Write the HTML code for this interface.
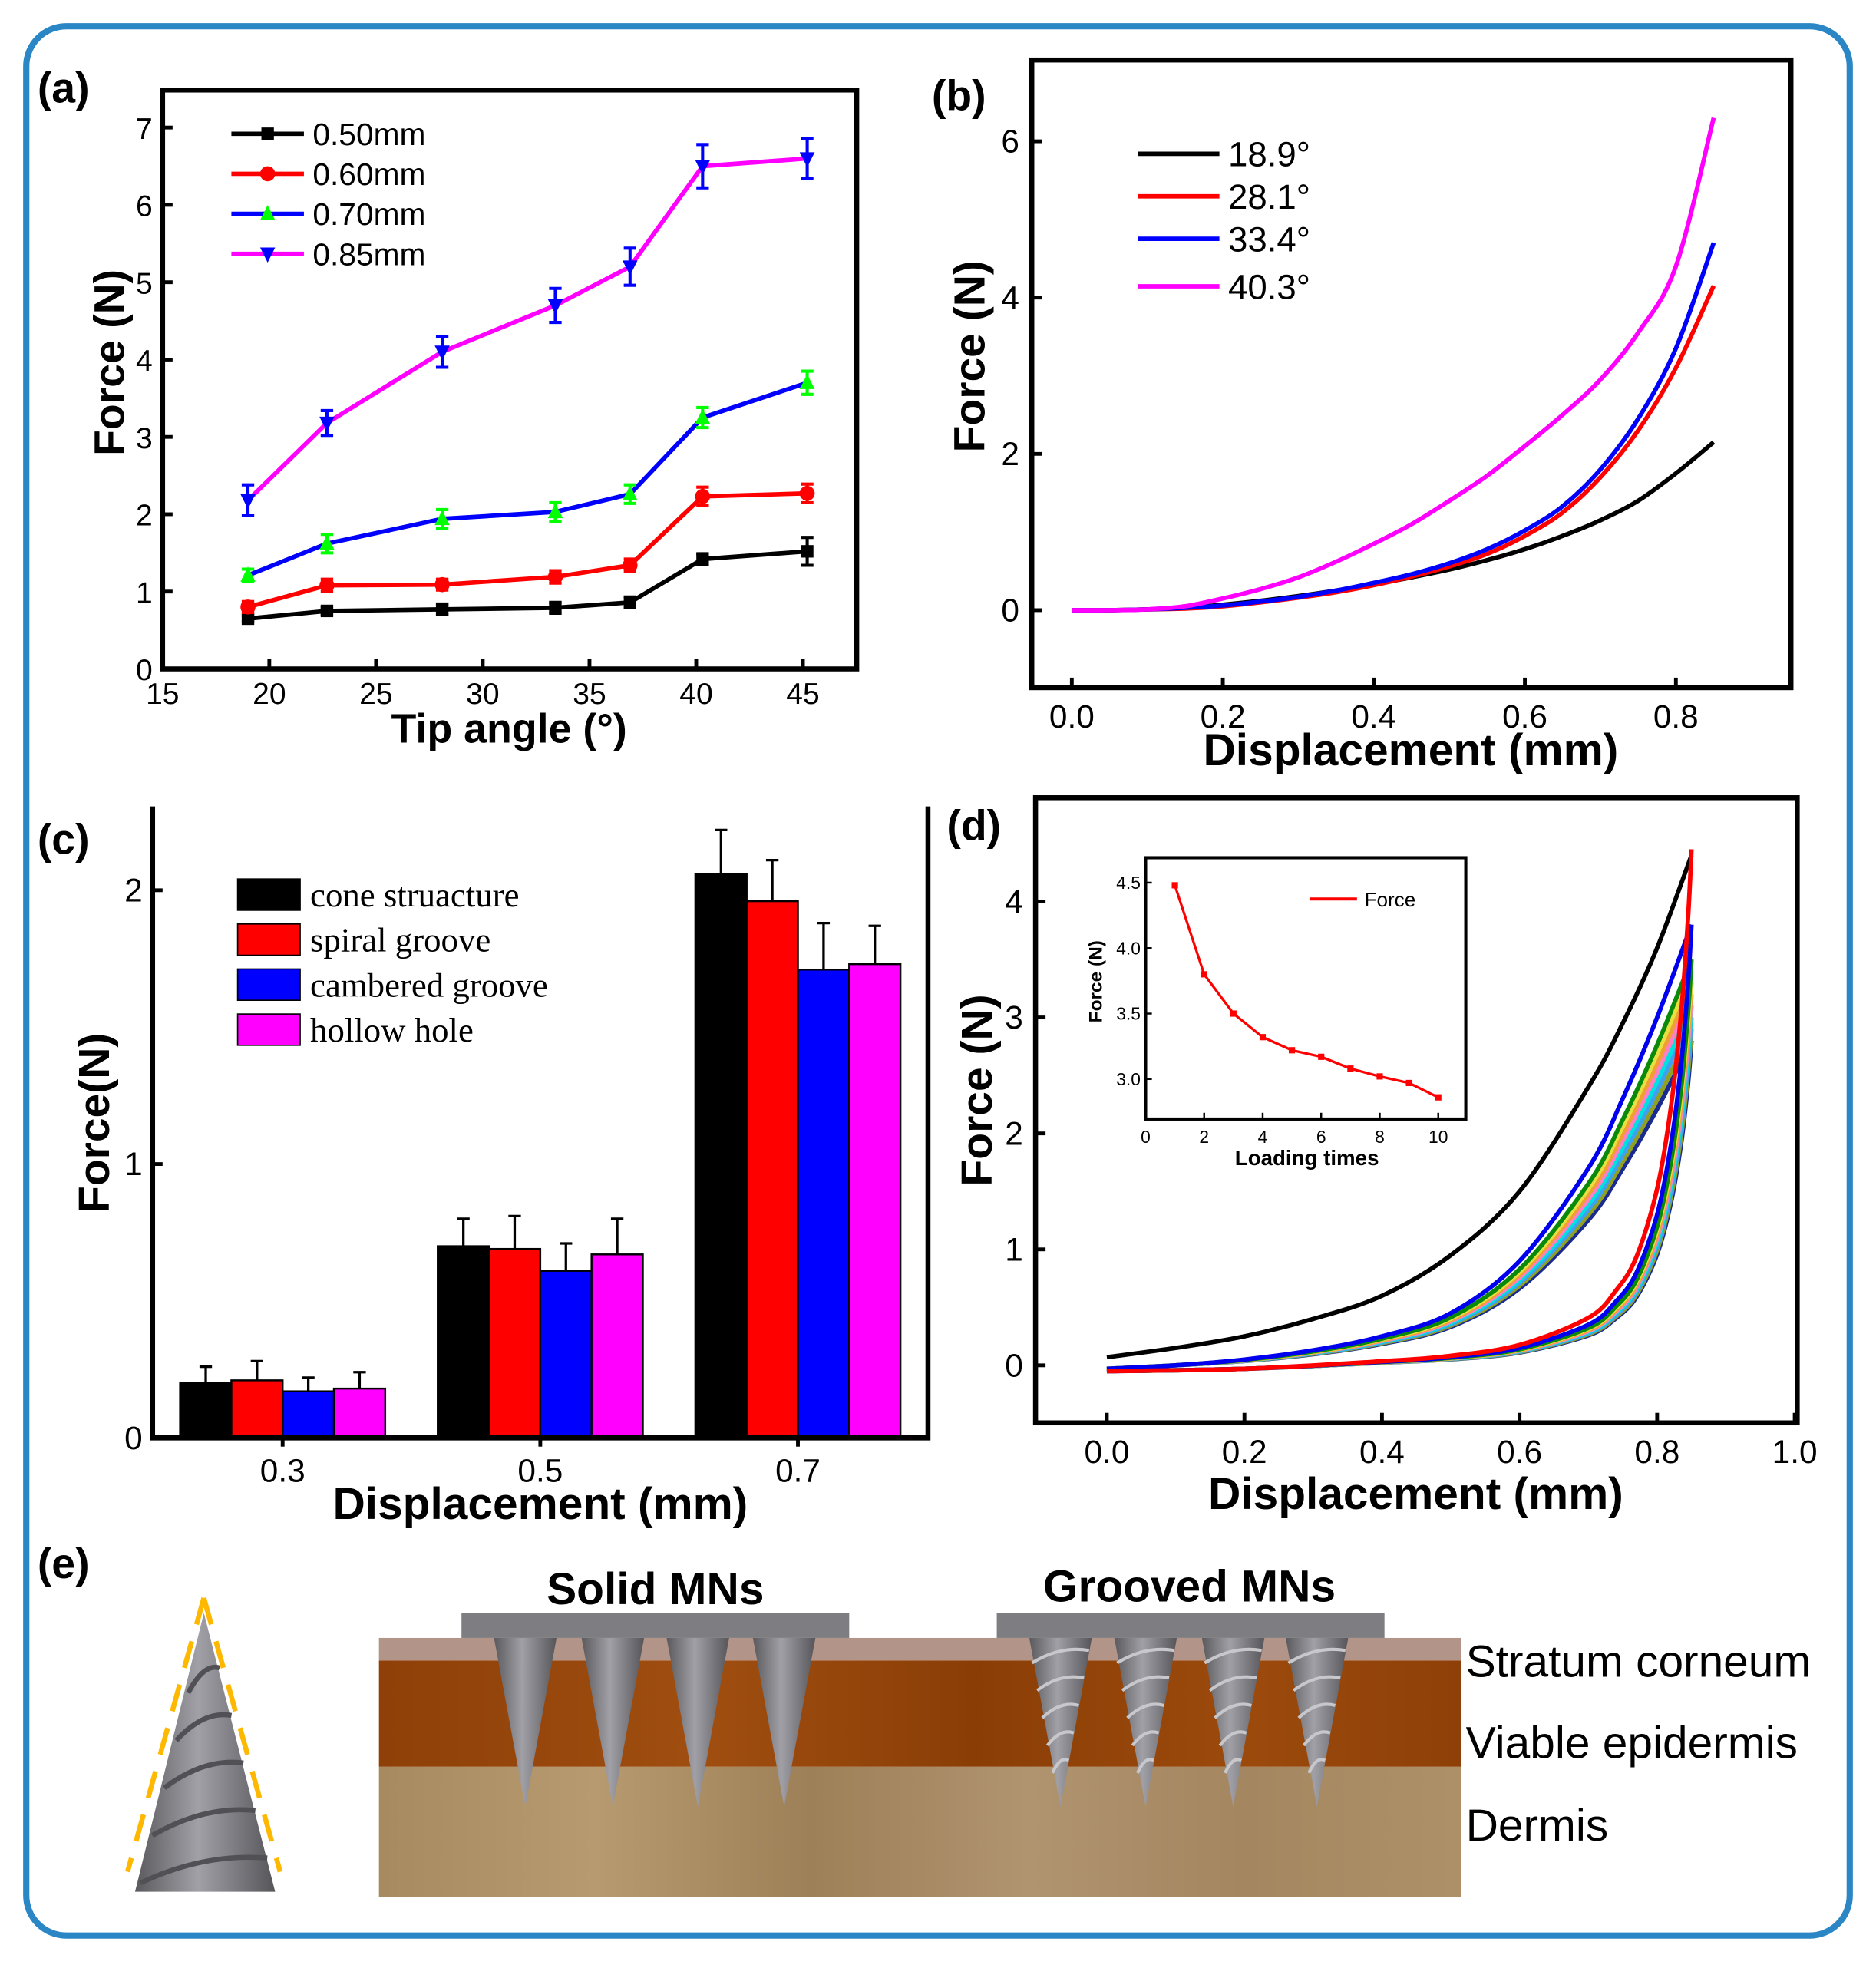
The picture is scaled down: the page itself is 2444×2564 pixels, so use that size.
<!DOCTYPE html>
<html><head><meta charset="utf-8"><style>
html,body{margin:0;padding:0;background:#fff;}
svg{display:block;}
text{font-family:"Liberation Sans",Arial,sans-serif;}
.serif{font-family:"Liberation Serif",serif;}
</style></head><body>
<svg id="fig" xmlns="http://www.w3.org/2000/svg" width="2444" height="2564" viewBox="0 0 1500 1574" preserveAspectRatio="none">
<defs>
<linearGradient id="cone" x1="0" x2="1" y1="0" y2="0"><stop offset="0" stop-color="#5a5a5e"/><stop offset="0.45" stop-color="#a0a0a6"/><stop offset="1" stop-color="#55555a"/></linearGradient>
<linearGradient id="epi" x1="0" x2="1"><stop offset="0" stop-color="#8e4008"/><stop offset="0.3" stop-color="#a04e10"/><stop offset="0.55" stop-color="#8a3e06"/><stop offset="0.8" stop-color="#9c4a0c"/><stop offset="1" stop-color="#8e4008"/></linearGradient>
<linearGradient id="der" x1="0" x2="1"><stop offset="0" stop-color="#a88a60"/><stop offset="0.2" stop-color="#b89a70"/><stop offset="0.4" stop-color="#9e8058"/><stop offset="0.6" stop-color="#b09470"/><stop offset="0.8" stop-color="#a48660"/><stop offset="1" stop-color="#ae9068"/></linearGradient>
</defs>
<rect x="21" y="21" width="1458" height="1527" rx="32" fill="none" stroke="#2a86c4" stroke-width="5"/>
<g id="pa"></g><g id="pb"></g><g id="pc"></g><g id="pd"></g><g id="pe"></g>
</svg>
<script>
const NS='http://www.w3.org/2000/svg';
function mk(p,tag,at,txt){const e=document.createElementNS(NS,tag);for(const k in at)e.setAttribute(k,at[k]);if(txt!==undefined)e.textContent=txt;p.appendChild(e);return e;}
function smooth(pts){
  let d='M'+pts[0][0]+','+pts[0][1];
  for(let i=0;i<pts.length-1;i++){
    const p0=pts[Math.max(0,i-1)],p1=pts[i],p2=pts[i+1],p3=pts[Math.min(pts.length-1,i+2)];
    const c1x=p1[0]+(p2[0]-p0[0])/6,c1y=p1[1]+(p2[1]-p0[1])/6;
    const c2x=p2[0]-(p3[0]-p1[0])/6,c2y=p2[1]-(p3[1]-p1[1])/6;
    d+=`C${c1x},${c1y} ${c2x},${c2y} ${p2[0]},${p2[1]}`;
  }
  return d;
}

// ---------- Panel (a) data ----------
const aAngles=[19,22.7,28.1,33.4,36.9,40.3,45.2];
const a050=[0.65,0.75,0.77,0.79,0.86,1.42,1.52];
const a060=[0.80,1.08,1.09,1.19,1.34,2.23,2.27];
const a070=[1.21,1.62,1.94,2.03,2.26,3.25,3.70];
const a085=[2.18,3.18,4.10,4.70,5.20,6.50,6.60];
const e050=[0.04,0.04,0.07,0.07,0.07,0.07,0.18];
const e060=[0.07,0.08,0.07,0.08,0.08,0.12,0.12];
const e070=[0.08,0.12,0.12,0.12,0.12,0.13,0.15];
const e085=[0.2,0.16,0.2,0.22,0.24,0.28,0.26];
const aLabels=['0.50mm','0.60mm','0.70mm','0.85mm'];
const aXTicks=[15,20,25,30,35,40,45];
const aYTicks=[0,1,2,3,4,5,6,7];

// ---------- Panel (b) data ----------
const bDisp=[0,0.05,0.1,0.15,0.2,0.25,0.3,0.35,0.4,0.45,0.5,0.55,0.6,0.65,0.7,0.75,0.8,0.85];
const b189=[0,0,0.01,0.03,0.07,0.12,0.18,0.25,0.33,0.42,0.52,0.64,0.78,0.95,1.15,1.4,1.75,2.15];
const b281=[0,0,0.01,0.02,0.05,0.1,0.16,0.23,0.32,0.43,0.56,0.72,0.95,1.25,1.7,2.3,3.1,4.15];
const b334=[0,0,0.01,0.03,0.06,0.11,0.17,0.25,0.35,0.46,0.6,0.78,1.02,1.33,1.8,2.45,3.35,4.7];
const b403=[0,0,0.01,0.05,0.15,0.27,0.42,0.62,0.85,1.1,1.4,1.72,2.1,2.5,2.95,3.55,4.4,6.3];
const bLabels=['18.9°','28.1°','33.4°','40.3°'];
const bXTicks=[0,0.2,0.4,0.6,0.8];
const bYTicks=[0,2,4,6];

// ---------- Panel (c) data ----------
const cGroups=['0.3','0.5','0.7'];
const cCone=[0.20,0.70,2.06];
const cSpiral=[0.21,0.69,1.96];
const cCamber=[0.17,0.61,1.71];
const cHollow=[0.18,0.67,1.73];
const cConeErr=[0.06,0.10,0.16];
const cSpiralErr=[0.07,0.12,0.15];
const cCamberErr=[0.05,0.10,0.17];
const cHollowErr=[0.06,0.13,0.14];
const cLabels=['cone struacture','spiral groove','cambered groove','hollow hole'];
const cYTicks=[0,1,2];

// ---------- Panel (d) data ----------
const dPeaks=[4.45,3.8,3.5,3.4,3.3,3.2,3.1,3.0,2.9,2.8];
const dLoadX=[0,0.1,0.2,0.3,0.4,0.5,0.6,0.7,0.75,0.8,0.85];
const dFirstLoad=[0.07,0.15,0.25,0.4,0.6,0.95,1.5,2.4,2.95,3.6,4.4];
const dLoadShape=[-0.03,0.0,0.05,0.13,0.25,0.45,0.9,1.7,2.3,3.0,3.8];
const dUnloadX=[0.85,0.845,0.835,0.82,0.8,0.77,0.74,0.7,0.6,0.5,0.4,0.2,0];
const dUnloadShape=[3.8,3.3,2.6,1.9,1.3,0.8,0.55,0.35,0.15,0.07,0.03,-0.03,-0.05];
const dXTicks=[0,0.2,0.4,0.6,0.8,1.0];
const dYTicks=[0,1,2,3,4];
const insetTimes=[1,2,3,4,5,6,7,8,9,10];
const insetForce=[4.48,3.80,3.50,3.32,3.22,3.17,3.08,3.02,2.97,2.86];
const insetXTicks=[0,2,4,6,8,10];
const insetYTicks=[3.0,3.5,4.0,4.5];

function axisBox(g,x0,y0,x1,y1,name){
  const r=mk(g,'rect',{x:x0,y:y0,width:x1-x0,height:y1-y0,fill:'none',stroke:'#000','stroke-width':4});
  
  
}
function ttext(g,x,y,s,size,extra,name){
  const t=mk(g,'text',Object.assign({x:x,y:y,'font-size':size},extra||{}),s);
  
  
  return t;
}

// ======== PANEL A ========
(function(){
  const g=document.getElementById('pa');
  
  const X0=130,X1=685,Y0=72,Y1=535;
  const sx=v=>130+(v-15)*(642-130)/30, sy=v=>535-v*(535-102)/7;
  ttext(g,30,82,'(a)',34,{'font-weight':'bold'},'panel-a-label');
  aYTicks.forEach(v=>{
    const l=mk(g,'line',{x1:X0,x2:X0+8,y1:sy(v),y2:sy(v),stroke:'#000','stroke-width':3});
    
    ttext(g,X0-8,sy(v)+9,String(v),24,{'text-anchor':'end'},'a-y-tick-label');
  });
  aXTicks.forEach(v=>{
    const l=mk(g,'line',{x1:sx(v),x2:sx(v),y1:Y1,y2:Y1-8,stroke:'#000','stroke-width':3});
    
    ttext(g,sx(v),Y1+28,String(v),24,{'text-anchor':'middle'},'a-x-tick-label');
  });
  axisBox(g,X0,Y0,X1,Y1,'a-plot-frame');
  ttext(g,407,594,'Tip angle (°)',33,{'text-anchor':'middle','font-weight':'bold'},'a-x-axis-title');
  ttext(g,0,0,'Force (N)',34,{'text-anchor':'middle','font-weight':'bold',transform:'translate(99,290) rotate(-90)'},'a-y-axis-title');
  const series=[[a050,e050,'#000','#000','sq'],[a060,e060,'#f00','#f00','ci'],[a070,e070,'#00f','#0f0','up'],[a085,e085,'#f0f','#00f','dn']];
  function marker(p,x,y,type,c){
    let m;
    if(type==='sq')m=mk(p,'rect',{x:x-5,y:y-5,width:10,height:10,fill:c});
    else if(type==='ci')m=mk(p,'circle',{cx:x,cy:y,r:6,fill:c});
    else if(type==='up')m=mk(p,'polygon',{points:`${x},${y-7} ${x-6},${y+5} ${x+6},${y+5}`,fill:c});
    else m=mk(p,'polygon',{points:`${x},${y+7} ${x-6},${y-5} ${x+6},${y-5}`,fill:c});
    
  }
  series.forEach((s,i)=>{
    const [vals,errs,lc,mc,type]=s;
    const pl=mk(g,'polyline',{points:vals.map((v,j)=>sx(aAngles[j])+','+sy(v)).join(' '),fill:'none',stroke:lc,'stroke-width':3.5});
    
    vals.forEach((v,j)=>{
      const x=sx(aAngles[j]);
      const eb=mk(g,'path',{d:`M${x},${sy(v-errs[j])}V${sy(v+errs[j])}M${x-5},${sy(v-errs[j])}h10M${x-5},${sy(v+errs[j])}h10`,stroke:mc,'stroke-width':2.5,fill:'none'});
      
      marker(g,x,sy(v),type,mc);
    });
    const ly=107+i*32;
    const ll=mk(g,'line',{x1:185,x2:243,y1:ly,y2:ly,stroke:lc,'stroke-width':3.5});
    
    marker(g,214,ly,type,mc);
    ttext(g,250,ly+9,aLabels[i],25,{},'a-legend-entry');
  });
})();

// ======== PANEL B ========
(function(){
  const g=document.getElementById('pb');
  
  const X0=825,X1=1432,Y0=48,Y1=550;
  const sx=v=>857+v*(1340-857)/0.8, sy=v=>488-v*62.5;
  ttext(g,745,88,'(b)',34,{'font-weight':'bold'},'panel-b-label');
  bYTicks.forEach(v=>{
    const l=mk(g,'line',{x1:X0,x2:X0+8,y1:sy(v),y2:sy(v),stroke:'#000','stroke-width':3});
    
    ttext(g,X0-10,sy(v)+9,String(v),26,{'text-anchor':'end'},'b-y-tick-label');
  });
  bXTicks.forEach(v=>{
    const l=mk(g,'line',{x1:sx(v),x2:sx(v),y1:Y1,y2:Y1-8,stroke:'#000','stroke-width':3});
    
    ttext(g,sx(v),Y1+32,v.toFixed(1),26,{'text-anchor':'middle'},'b-x-tick-label');
  });
  axisBox(g,X0,Y0,X1,Y1,'b-plot-frame');
  ttext(g,1128,612,'Displacement (mm)',36,{'text-anchor':'middle','font-weight':'bold'},'b-x-axis-title');
  ttext(g,0,0,'Force (N)',35,{'text-anchor':'middle','font-weight':'bold',transform:'translate(787,285) rotate(-90)'},'b-y-axis-title');
  const series=[[b189,'#000'],[b281,'#f00'],[b334,'#00f'],[b403,'#f0f']];
  series.forEach((s,i)=>{
    const pl=mk(g,'path',{d:smooth(s[0].map((v,j)=>[sx(bDisp[j]),sy(v)])),fill:'none',stroke:s[1],'stroke-width':3.5,'stroke-linejoin':'round'});
    
    const ly=[123,157,191,229][i];
    const ll=mk(g,'line',{x1:910,x2:975,y1:ly,y2:ly,stroke:s[1],'stroke-width':3.5});
    
    ttext(g,982,ly+10,bLabels[i],28,{},'b-legend-entry');
  });
})();

// ======== PANEL C ========
(function(){
  const g=document.getElementById('pc');
  
  const X0=122,X1=742,Y0=645,Y1=1150;
  const sy=v=>1150-v*219;
  const centers=[226,432,638];
  ttext(g,30,683,'(c)',34,{'font-weight':'bold'},'panel-c-label');
  const series=[[cCone,cConeErr,'#000'],[cSpiral,cSpiralErr,'#f00'],[cCamber,cCamberErr,'#00f'],[cHollow,cHollowErr,'#f0f']];
  series.forEach((s,i)=>{
    s[0].forEach((v,j)=>{
      const x=centers[j]-82+i*41;
      const r=mk(g,'rect',{x:x,y:sy(v),width:41,height:sy(0)-sy(v),fill:s[2],stroke:'#000','stroke-width':1.5});
      
      const cx=x+20.5,e=s[1][j];
      const eb=mk(g,'path',{d:`M${cx},${sy(v)}V${sy(v+e)}M${cx-5},${sy(v+e)}h10`,stroke:'#000','stroke-width':2,fill:'none'});
      
    });
    const ly=703+i*36;
    const sw=mk(g,'rect',{x:190,y:ly,width:50,height:25,fill:s[2],stroke:'#000','stroke-width':1});
    
    ttext(g,248,ly+22,cLabels[i],27.5,{class:'serif'},'c-legend-entry');
  });
  cYTicks.forEach(v=>{
    const l=mk(g,'line',{x1:X0,x2:X0+8,y1:sy(v),y2:sy(v),stroke:'#000','stroke-width':3});
    
    ttext(g,X0-8,sy(v)+9,String(v),26,{'text-anchor':'end'},'c-y-tick-label');
  });
  cGroups.forEach((lab,j)=>{
    const l=mk(g,'line',{x1:centers[j],x2:centers[j],y1:Y1,y2:Y1+7,stroke:'#000','stroke-width':3});
    
    ttext(g,centers[j],Y1+35,lab,26,{'text-anchor':'middle'},'c-x-tick-label');
  });
  const ax=mk(g,'path',{d:`M${X0},${Y0}V${Y1}H${X1}V${Y0}`,fill:'none',stroke:'#000','stroke-width':4});
  
  ttext(g,432,1215,'Displacement (mm)',36,{'text-anchor':'middle','font-weight':'bold'},'c-x-axis-title');
  ttext(g,0,0,'Force(N)',35,{'text-anchor':'middle','font-weight':'bold',transform:'translate(87,898) rotate(-90)'},'c-y-axis-title');
})();

// ======== PANEL D ========
(function(){
  const g=document.getElementById('pd');
  
  const X0=828,X1=1437,Y0=638,Y1=1138;
  const sx=v=>885+v*550, sy=v=>1092-v*92.75;
  ttext(g,757,672,'(d)',34,{'font-weight':'bold'},'panel-d-label');
  dYTicks.forEach(v=>{
    const l=mk(g,'line',{x1:X0,x2:X0+8,y1:sy(v),y2:sy(v),stroke:'#000','stroke-width':3});
    
    ttext(g,X0-10,sy(v)+9,String(v),26,{'text-anchor':'end'},'d-y-tick-label');
  });
  dXTicks.forEach(v=>{
    const l=mk(g,'line',{x1:sx(v),x2:sx(v),y1:Y1,y2:Y1-8,stroke:'#000','stroke-width':3});
    
    ttext(g,sx(v),Y1+32,v.toFixed(1),26,{'text-anchor':'middle'},'d-x-tick-label');
  });
  const colors=['#000','#0000ee','#0a8a0a','#e8e040','#f0a030','#ff80c0','#00e0e0','#40a0f0','#90a020','#1a2a90'];
  for(let k=dPeaks.length-1;k>=0;k--){
    const sc=dPeaks[k]/3.8;
    const load=k===0?dFirstLoad.map((v,j)=>[sx(dLoadX[j]),sy(v)]):dLoadShape.map((v,j)=>[sx(dLoadX[j]),sy(v>0?v*sc:v)]);
    const pl=mk(g,'path',{d:smooth(load),fill:'none',stroke:colors[k],'stroke-width':3.5,'stroke-linejoin':'round'});
    
    const un=dUnloadShape.map((v,j)=>[sx(dUnloadX[j]),sy(v>0?v*sc:v)]);
    const pu=mk(g,'path',{d:smooth(un),fill:'none',stroke:k===0?'#f00':colors[k],'stroke-width':3.5,'stroke-linejoin':'round'});
    
  }
  axisBox(g,X0,Y0,X1,Y1,'d-plot-frame');
  ttext(g,1132,1207,'Displacement (mm)',36,{'text-anchor':'middle','font-weight':'bold'},'d-x-axis-title');
  ttext(g,0,0,'Force (N)',35,{'text-anchor':'middle','font-weight':'bold',transform:'translate(793,872) rotate(-90)'},'d-y-axis-title');
  // inset
  const ix=v=>916+v*23.4, iy=v=>863-(v-3.0)*104.7;
  const ib=mk(g,'rect',{x:916,y:686,width:256,height:209,fill:'#fff',stroke:'#000','stroke-width':2.5});
  
  insetYTicks.forEach(v=>{
    const l=mk(g,'line',{x1:916,x2:921,y1:iy(v),y2:iy(v),stroke:'#000','stroke-width':1.5});
    
    ttext(g,912,iy(v)+5,v.toFixed(1),14,{'text-anchor':'end'},'inset-y-tick-label');
  });
  insetXTicks.forEach(v=>{
    const l=mk(g,'line',{x1:ix(v),x2:ix(v),y1:895,y2:890,stroke:'#000','stroke-width':1.5});
    
    ttext(g,ix(v),914,String(v),14,{'text-anchor':'middle'},'inset-x-tick-label');
  });
  const ipl=mk(g,'polyline',{points:insetForce.map((v,j)=>ix(insetTimes[j])+','+iy(v)).join(' '),fill:'none',stroke:'#f00','stroke-width':2});
  
  insetForce.forEach((v,j)=>{
    const m=mk(g,'rect',{x:ix(insetTimes[j])-2.5,y:iy(v)-2.5,width:5,height:5,fill:'#f00'});
    
  });
  const ll=mk(g,'line',{x1:1047,x2:1085,y1:719,y2:719,stroke:'#f00','stroke-width':2.5});
  
  ttext(g,1091,725,'Force',16,{},'inset-legend-entry');
  ttext(g,1045,932,'Loading times',17,{'text-anchor':'middle','font-weight':'bold'},'inset-x-axis-title');
  ttext(g,0,0,'Force (N)',15,{'text-anchor':'middle','font-weight':'bold',transform:'translate(881,785) rotate(-90)'},'inset-y-axis-title');
})();

// ======== PANEL E ========
(function(){
  const g=document.getElementById('pe');
  
  ttext(g,30,1262,'(e)',34,{'font-weight':'bold'},'panel-e-label');
  function R(x,y,w,h,f,name){const r=mk(g,'rect',{x:x,y:y,width:w,height:h,fill:f});return r;}
  R(303,1413,865,104,'url(#der)','dermis-layer');
  R(303,1328,865,85,'url(#epi)','viable-epidermis-layer');
  R(303,1310,865,18,'#b39488','stratum-corneum-layer');
  R(369,1290,310,20,'#7e7e82','solid-mn-base');
  R(797,1290,310,20,'#7e7e82','grooved-mn-base');
  [420,490,558,627].forEach(cx=>{
    const p=mk(g,'polygon',{points:`${cx-25},1310 ${cx+25},1310 ${cx},1445`,fill:'url(#cone)'});
    
  });
  [848,916,986,1053].forEach(cx=>{
    const p=mk(g,'polygon',{points:`${cx-25},1310 ${cx+25},1310 ${cx},1445`,fill:'url(#cone)'});
    
    let d='';
    for(let k=0;k<5;k++){const y=1322+k*22,hw=25*(1445-y)/135;d+=`M${cx-hw},${y+8}Q${cx},${y-6} ${cx+hw},${y-2}`;}
    const gr=mk(g,'path',{d:d,stroke:'#c8c8cc','stroke-width':2.5,fill:'none'});
    
  });
  ttext(g,524,1283,'Solid MNs',36,{'text-anchor':'middle','font-weight':'bold'},'solid-mns-title');
  ttext(g,951,1281,'Grooved MNs',36,{'text-anchor':'middle','font-weight':'bold'},'grooved-mns-title');
  ttext(g,1172,1341,'Stratum corneum',36,{},'stratum-corneum-label');
  ttext(g,1172,1406,'Viable epidermis',36,{},'viable-epidermis-label');
  ttext(g,1172,1472,'Dermis',36,{},'dermis-label');
  const big=mk(g,'polygon',{points:'163,1290 108,1513 220,1513',fill:'url(#cone)'});
  
  let d='';
  for(let k=0;k<5;k++){const y=1340+k*38,hw=56*(y-1290)/223;d+=`M${163-hw},${y+14}Q${163},${y-10} ${163+hw},${y-6}`;}
  const gr=mk(g,'path',{d:d,stroke:'#505055','stroke-width':4,fill:'none'});
  
  const dl=mk(g,'path',{d:'M163,1278L102,1497M163,1278L224,1497',stroke:'#ffb800','stroke-width':4,'stroke-dasharray':'22 14',fill:'none'});
  
})();
</script>
</body></html>
